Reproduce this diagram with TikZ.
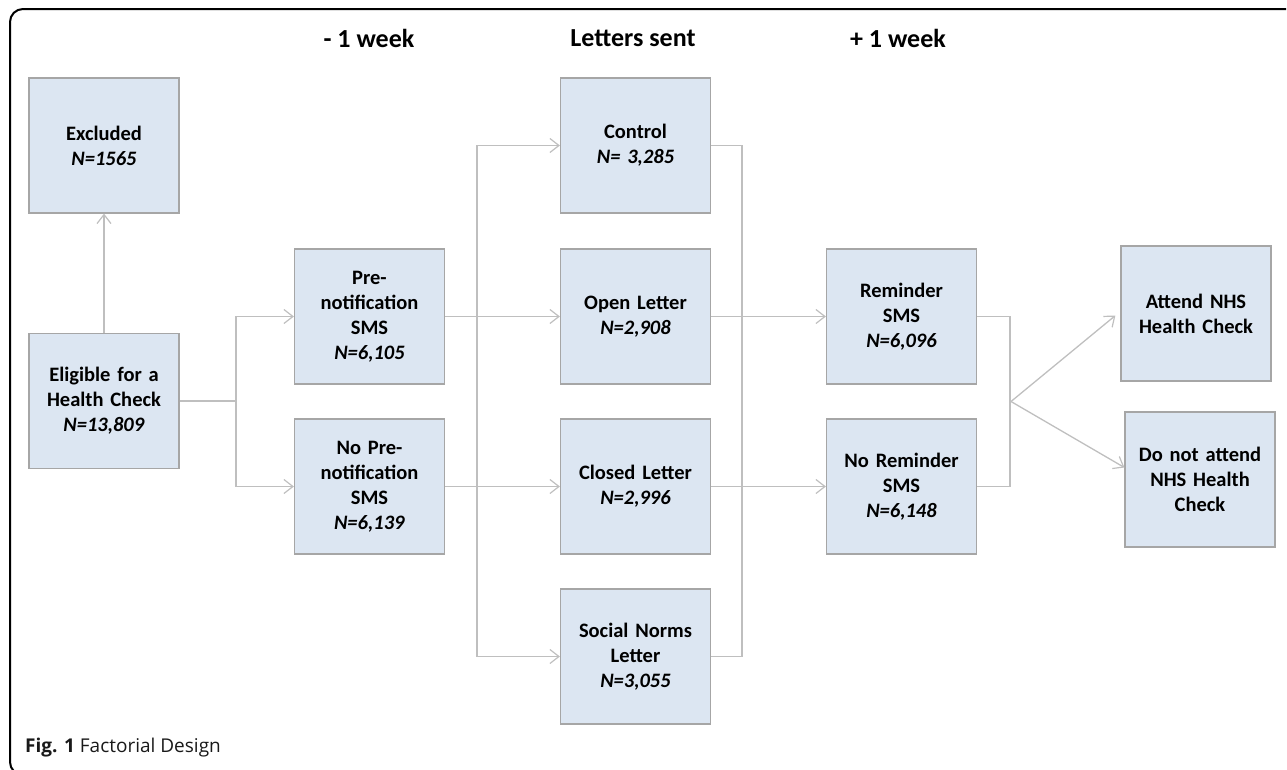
\documentclass[tikz,border=0pt]{standalone}
\usepackage{fontspec}
\setmainfont{Carlito}
\newfontfamily\capfont{Open Sans}
\usetikzlibrary{arrows.meta,calc}
\definecolor{boxfill}{HTML}{DCE6F2}
\definecolor{boxline}{HTML}{A6A6A6}
\definecolor{connc}{HTML}{BFBFBF}
\begin{document}
\begin{tikzpicture}[x=1pt,y=-1pt,
  box/.style={draw=boxline, line width=1.2pt, fill=boxfill, minimum width=150pt, minimum height=135pt, text width=146pt, align=center, font=\fontsize{20.5}{25}\selectfont\bfseries, inner sep=0pt},
  conn/.style={draw=connc, line width=1.3pt},
  arr/.style={conn, -{Straight Barb[length=9pt,width=14pt,line width=1.2pt]}},
  head/.style={font=\fontsize{26}{30}\selectfont\bfseries}]
\useasboundingbox (0,0) rectangle (1287,769);
% frame
\draw[line width=2pt, rounded corners=13pt] (1286,9) -- (10,9) -- (10,775) -- (40,775);
% headers
\node[head] (h1) at (369,38) {- 1 week};
\node[head] (h2) at (633,38) {Letters sent};
\node[head] (h3) at (898,38) {+ 1 week};
% boxes
\node[box] (excl) at (104,145.5) {Excluded\\\textit{N=1565}};
\node[box] (elig) at (104,401) {Eligible for a\\Health Check\\\textit{N=13,809}};
\node[box] (pre) at (369.5,316.5) {Pre-\\notification\\SMS\\\textit{N=6,105}};
\node[box] (nopre) at (369.5,486.5) {No Pre-\\notification\\SMS\\\textit{N=6,139}};
\node[box] (control) at (635.5,145.5) {Control\\\textit{N= 3,285}};
\node[box] (open) at (635.5,316.5) {Open Letter\\\textit{N=2,908}};
\node[box] (closed) at (635.5,486.5) {Closed Letter\\\textit{N=2,996}};
\node[box] (social) at (635.5,656.5) {Social Norms\\Letter\\\textit{N=3,055}};
\node[box] (rem) at (901.5,316.5) {Reminder\\SMS\\\textit{N=6,096}};
\node[box] (norem) at (901.5,486.5) {No Reminder\\SMS\\\textit{N=6,148}};
\node[box] (attend) at (1196,313.5) {Attend NHS\\Health Check};
\node[box] (noattend) at (1200,479.5) {Do not attend\\NHS Health\\Check};
% junction coordinates
\coordinate (j1) at (236,401);
\coordinate (v1) at (477,0);
\coordinate (v2) at (742,0);
\coordinate (v3) at (1010,0);
\coordinate (b) at (1011,401.5);
% connectors
\draw[arr] (elig.north) -- (excl.south);
\draw[conn] (elig.east) -- (j1);
\draw[arr] (j1) |- (pre.west);
\draw[arr] (j1) |- (nopre.west);
\draw[arr] (pre.east) -- (open.west);
\draw[arr] (nopre.east) -- (closed.west);
\draw[arr] (v1 |- social.west) |- (control.west);
\draw[arr] (v1 |- control.west) |- (social.west);
\draw[conn] (control.east) -| (v2 |- social.east) -- (social.east);
\draw[arr] (open.east) -- (rem.west);
\draw[arr] (closed.east) -- (norem.west);
\draw[conn] (rem.east) -| (v3 |- norem.east) -- (norem.east);
\draw[arr] (b) -- ([xshift=-5pt,yshift=-2pt]attend.west);
\draw[arr] (b) -- ([yshift=12pt]noattend.west);
% caption
\node[anchor=west, inner sep=0pt, text=black!90] (cap) at (25,748) {\capfont\fontsize{19}{22}\selectfont\textbf{Fig. 1} Factorial Design};
\end{tikzpicture}
\end{document}
